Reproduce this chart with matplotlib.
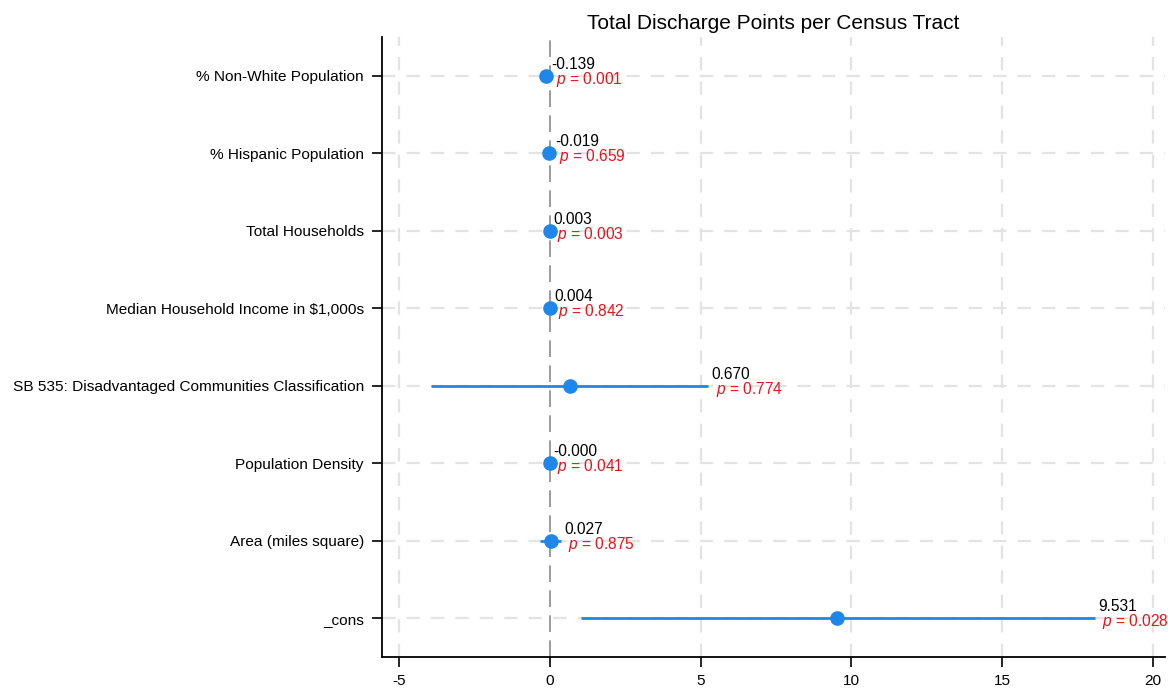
import matplotlib
matplotlib.use("Agg")
import matplotlib.pyplot as plt
from matplotlib.transforms import offset_copy

plt.rcParams['font.family'] = ['Liberation Sans', 'DejaVu Sans']
plt.rcParams['mathtext.fontset'] = 'custom'
plt.rcParams['mathtext.rm'] = 'Liberation Sans'
plt.rcParams['mathtext.it'] = 'Liberation Sans:italic'

# Regression coefficients with 95% confidence intervals
variables = [
    "% Non-White Population",
    "% Hispanic Population",
    "Total Households",
    "Median Household Income in $1,000s",
    "SB 535: Disadvantaged Communities Classification",
    "Population Density",
    "Area (miles square)",
    "_cons",
]
coef = [-0.139, -0.019, 0.003, 0.004, 0.670, -0.00003, 0.027, 9.531]
ci_low = [-0.222, -0.104, 0.001, -0.035, -3.92, -0.00006, -0.31, 1.03]
ci_high = [-0.056, 0.066, 0.005, 0.043, 5.25, -0.000001, 0.364, 18.07]
pvals = [0.001, 0.659, 0.003, 0.842, 0.774, 0.041, 0.875, 0.028]
xticks = [-5, 0, 5, 10, 15, 20]

blue = "#1f86ea"
red = "#e4141c"

fig = plt.figure(figsize=(11.68, 6.88), dpi=100)
ax = fig.add_axes([382 / 1168, 1 - 657 / 688, (1165 - 382) / 1168, (657 - 37) / 688])

n = len(variables)
ypos = list(range(n, 0, -1))

# Grid lines
for xt in xticks:
    if xt == 0:
        continue
    ax.axvline(xt, color="#e3e3e3", lw=1.6, dashes=(6, 5), zorder=0)
for y in ypos:
    ax.axhline(y, color="#e3e3e3", lw=1.6, dashes=(6, 5), zorder=0)
ax.axvline(0, color="#8a8a8a", lw=1.2, dashes=(10, 5), zorder=1)

for y, c, lo, hi, p in zip(ypos, coef, ci_low, ci_high, pvals):
    ax.plot([lo, hi], [y, y], color=blue, lw=2.0, solid_capstyle="butt", zorder=2)
    ax.plot([c], [y], "o", color=blue, ms=9.5, mec=blue, zorder=3)
    tx = max(hi, lo)
    lab = f"{c:.3f}"
    if lab == "0.000" and c < 0:
        lab = "-0.000"
    t1 = offset_copy(ax.transData, fig=fig, x=3.5, y=7, units="dots")
    ax.text(tx, y, lab, transform=t1, fontsize=11.2, color="black",
            ha="left", va="baseline", zorder=4)
    t2 = offset_copy(ax.transData, fig=fig, x=7.5, y=-8, units="dots")
    ax.text(tx, y, f"$p$ = {p:.3f}", transform=t2, fontsize=11.2, color=red,
            ha="left", va="baseline", zorder=4)

ax.set_xlim(-5.56, 20.4)
ax.set_ylim(0.5, n + 0.5)
ax.set_xticks(xticks)
ax.set_xticklabels([str(v) for v in xticks])
ax.set_yticks(ypos)
ax.set_yticklabels(variables)
ax.tick_params(axis="both", labelsize=11.1, length=7, width=1.2, color="black")
ax.tick_params(axis="y", pad=6)
ax.tick_params(axis="x", pad=5)
for side in ("top", "right"):
    ax.spines[side].set_visible(False)
for side in ("left", "bottom"):
    ax.spines[side].set_linewidth(1.3)

ax.set_title("Total Discharge Points per Census Tract", fontsize=15, pad=6)

fig.savefig("out.png", dpi=100, facecolor="white")
